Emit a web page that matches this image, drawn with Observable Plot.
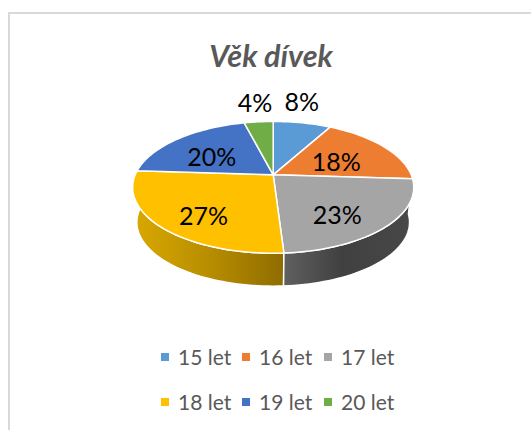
<!DOCTYPE html>
<html>
<head>
<meta charset="utf-8">
<script src="https://cdn.jsdelivr.net/npm/d3@7"></script>
<script src="https://cdn.jsdelivr.net/npm/@observablehq/plot@0.6"></script>
<style>
html,body{margin:0;padding:0;background:#fff;overflow:hidden}
#page{position:relative;width:531px;height:430px;overflow:hidden}
#frame{position:absolute;left:8px;top:12px;right:-5px;bottom:-5px;border:2px solid #d9d9d9;box-sizing:border-box}
#title{position:absolute;left:0;width:542px;top:37px;text-align:center;font:italic 700 30.5px Lato,sans-serif;color:#595959;line-height:36px}
#chart{position:absolute;left:0;top:80px}
.sw{position:absolute;width:8px;height:8px}
.lb{position:absolute;font:21px Lato,sans-serif;color:#595959;line-height:24px;white-space:nowrap}
</style>
</head>
<body>
<div id="page">
<div id="frame"></div>
<div id="title">Věk dívek</div>
<div id="chart"></div>
<div id="legend"></div>
</div>
<script>
const ages = ["15 let","16 let","17 let","18 let","19 let","20 let"];
const shares = [8,18,23,27,20,4];
const colors = ["#5b9bd5","#ed7d31","#a5a5a5","#ffc000","#4472c4","#70ad47"];

// perspective tilt of the pie
const k = 0.19, sBottom = 0.97, drop = 35.3/63.5;
const project = (pct, r=1) => {
  const a = pct/100*2*Math.PI, u = r*Math.sin(a), v = -r*Math.cos(a), w = 1-k*v;
  return [u/w, v/w];
};
let cum = 0;
const slices = shares.map((p,i)=>{const s={age:ages[i],share:p,start:cum,end:cum+p};cum+=p;return s;});

const topPts=[], labels=[];
const arc=(s,e)=>{const n=Math.max(8,Math.ceil((e-s)*2));return d3.range(n+1).map(i=>s+(e-s)*i/n);};
for(const s of slices){
  topPts.push({age:s.age,x:0,y:0});
  for(const t of arc(s.start,s.end)){const [x,y]=project(t);topPts.push({age:s.age,x,y});}
  topPts.push({age:s.age,x:0,y:0});
}
const wall=(s)=>{
  const ts=arc(s.start,s.end);
  return [...ts.map(t=>{const [x,y]=project(t);return {x,y};}),
          ...ts.slice().reverse().map(t=>{const [x,y]=project(t);return {x:x*sBottom,y:y*sBottom+drop};})]
         .concat([(()=>{const [x,y]=project(s.start);return {x,y};})()]);
};
const grey=slices[2], yellow=slices[3];

const cx=272.7, cy=174.3-80, a=138, b=63.5;
const labelRadius=[1.32,0.62,0.62,0.6,0.62,1.32];
const labelNudge=[[-8,-6.5],[-8,6],[-2,11],[-6,13],[0,7],[0,-4.5]];
for(const [i,s] of slices.entries()){
  const [x,y]=project((s.start+s.end)/2,labelRadius[i]);
  labels.push({x:x+labelNudge[i][0]/a,y:y+labelNudge[i][1]/b,text:s.share+"%"});
}

const defs=()=>{
  const d=d3.create("svg:defs");
  const g=(id,stops)=>{const l=d.append("linearGradient").attr("id",id);
    stops.forEach(([o,c])=>l.append("stop").attr("offset",o).attr("stop-color",c));};
  g("gy",[[0,"#d9a800"],[0.5,"#b88e00"],[1,"#8f6c00"]]);
  g("gg",[[0,"#606060"],[0.45,"#404040"],[1,"#484848"]]);
  return d.node();
};

const chart=Plot.plot({
  width:531,height:220,margin:0,
  x:{domain:[-1,1],range:[cx-a,cx+a],axis:null},
  y:{domain:[-1,1],range:[cy-b,cy+b],axis:null},
  color:{domain:ages,range:colors},
  style:{background:"transparent"},
  marks:[
    defs,
    Plot.line(wall(yellow),{x:"x",y:"y",fill:"url(#gy)",stroke:"white",strokeWidth:1.5,curve:"linear"}),
    Plot.line(wall(grey),{x:"x",y:"y",fill:"url(#gg)",stroke:"white",strokeWidth:1.5,curve:"linear"}),
    Plot.line(topPts,{x:"x",y:"y",fill:"age",stroke:"white",strokeWidth:1.5,curve:"linear",strokeLinejoin:"round"}),
    Plot.text(labels,{x:"x",y:"y",text:"text",fontSize:25,fill:"black",fontFamily:"Lato"})
  ]
});
document.getElementById("chart").append(chart);

const legend=document.getElementById("legend");
const colX=[161,242,324], rowY=[357,402];
ages.forEach((age,i)=>{
  const c=i%3,r=Math.floor(i/3);
  const sw=document.createElement("div");sw.className="sw";sw.style.left=colX[c]+"px";sw.style.top=(rowY[r]-4)+"px";sw.style.background=colors[i];
  const t=document.createElement("div");t.className="lb";t.textContent=age;t.style.left=(colX[c]+17)+"px";t.style.top=(rowY[r]-12)+"px";
  legend.append(sw,t);
});
</script>
</body>
</html>
